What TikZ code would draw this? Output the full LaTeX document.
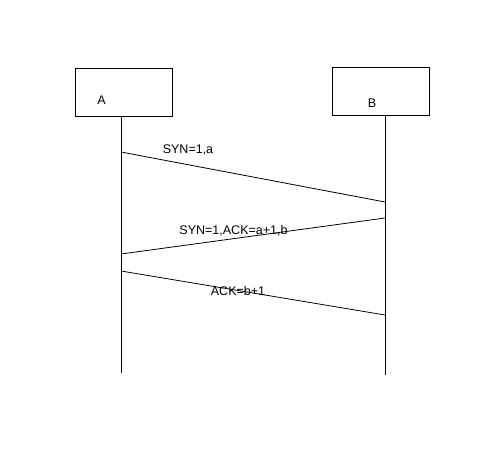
\documentclass[tikz,border=0pt]{standalone}
\usepackage{fontspec}
\setmainfont{Liberation Sans}
\usetikzlibrary{positioning}

\begin{document}
\begin{tikzpicture}[
    x=1pt, y=-1pt,
    line width=0.8pt,
    party/.style={
        draw=black,
        line width=0.8pt,
        minimum width=97pt,
        minimum height=48pt,
        inner sep=0pt
    },
    partylbl/.style={font=\fontsize{12.5}{14}\selectfont, inner sep=0pt},
    msglbl/.style={font=\fontsize{12.5}{14}\selectfont, inner sep=0pt}
]
\useasboundingbox (0,0) rectangle (490,458);

% --- Parties ---
\node[party] (boxA) at (123.5,92) {};
\node[party] (boxB) at (381,91.5) {};
\node[partylbl] (labA) at ([xshift=-22pt, yshift=-8pt]boxA.center) {A};
\node[partylbl] (labB) at ([xshift=-9pt, yshift=-11.5pt]boxB.center) {B};

% --- Lifelines ---
\coordinate (aTop) at (121,116);
\coordinate (aBot) at (121,373);
\coordinate (bTop) at (385,115);
\coordinate (bBot) at (385,375);
\draw (aTop) -- (aBot);
\draw (bTop) -- (bBot);

% --- Message end points ---
\coordinate (a1) at (121,152);
\coordinate (b1) at (385,202);
\coordinate (b2) at (385,218);
\coordinate (a2) at (121,254);
\coordinate (a3) at (121,271);
\coordinate (b3) at (385,315);

% --- Handshake ---
\draw (a1) -- (b1);
\node[msglbl] (syn) at (188,150) {SYN=1,a};
\draw (b2) -- (a2);
\node[msglbl] (synack) at (233.5,231) {SYN=1,ACK=a+1,b};
\draw (a3) -- (b3);
\node[msglbl] (ack) at (238,291) {ACK=b+1};

\end{tikzpicture}
\end{document}
